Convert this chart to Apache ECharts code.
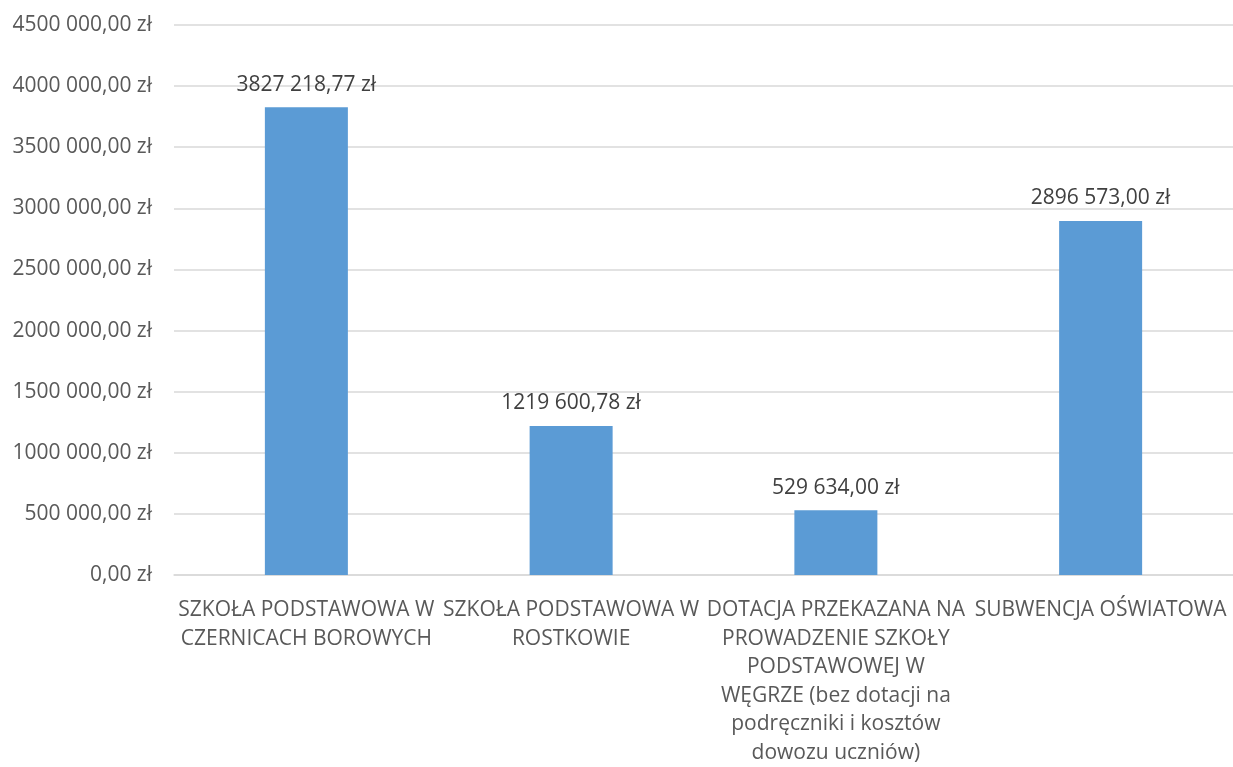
<!DOCTYPE html>
<html>
<head>
<meta charset="utf-8">
<script src="https://cdn.jsdelivr.net/npm/echarts@6/dist/echarts.min.js"></script>
<style>
  html, body { margin: 0; padding: 0; background: #fff; }
  #ct { width: 1233px; height: 767px; }
</style>
</head>
<body>
<div id="ct"></div>
<script>
// kategorie (z podziałem wierszy jak na oryginale)
const categories = [
  "SZKOŁA PODSTAWOWA W\nCZERNICACH BOROWYCH",
  "SZKOŁA PODSTAWOWA W\nROSTKOWIE",
  "DOTACJA PRZEKAZANA NA\nPROWADZENIE SZKOŁY\nPODSTAWOWEJ W\nWĘGRZE (bez dotacji na\npodręczniki i kosztów\ndowozu uczniów)",
  "SUBWENCJA OŚWIATOWA"
];
const values = [3827218.77, 1219600.78, 529634.00, 2896573.00];
const yMin = 0;
const yMax = 4500000;
const yStep = 500000;

// format jak w Excelu: "3827 218,77 zł"
function zl(v) {
  const parts = v.toFixed(2).split(".");
  let int = parts[0];
  if (int.length > 3) int = int.slice(0, -3) + " " + int.slice(-3);
  return int + "," + parts[1] + " zł";
}

const chart = echarts.init(document.getElementById("ct"));
const font = "'Open Sans', 'Noto Sans', sans-serif";
const option = {
  animation: false,
  backgroundColor: "#fff",
  textStyle: { fontFamily: font },
  grid: {
    top: 25,
    left: 174,
    right: 0,
    bottom: 188,
    containLabel: false
  },
  xAxis: {
    type: "category",
    data: categories,
    axisLine: { lineStyle: { color: "#D9D9D9", width: 1.5 } },
    axisTick: { show: false },
    axisLabel: {
      interval: 0,
      color: "#595959",
      fontSize: 21,
      fontFamily: font,
      lineHeight: 28.5,
      margin: 21,
      align: "center"
    }
  },
  yAxis: {
    type: "value",
    min: yMin,
    max: yMax,
    interval: yStep,
    axisLine: { show: false },
    axisTick: { show: false },
    splitLine: { lineStyle: { color: "#D9D9D9", width: 1.5 } },
    axisLabel: {
      color: "#595959",
      fontSize: 21,
      fontFamily: font,
      margin: 22,
      formatter: zl
    }
  },
  series: [
    {
      type: "bar",
      data: values,
      barWidth: 83,
      itemStyle: { color: "#5B9BD5" },
      label: {
        show: true,
        position: "top",
        distance: 12,
        color: "#404040",
        fontSize: 21,
        fontFamily: font,
        formatter: p => zl(p.value)
      }
    }
  ]
};
chart.setOption(option);
</script>
</body>
</html>
